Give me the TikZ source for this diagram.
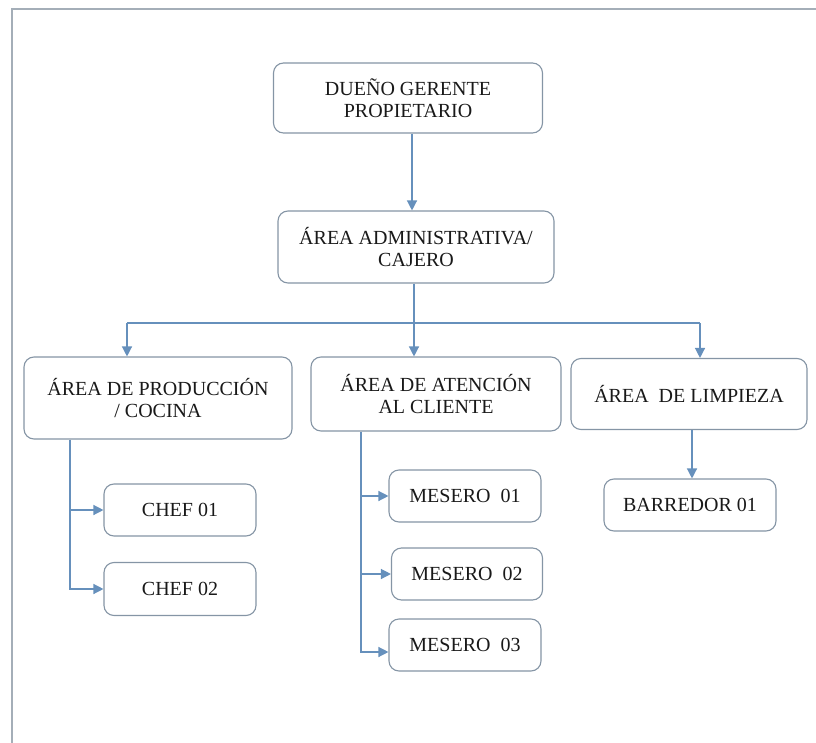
\documentclass[tikz,border=0pt]{standalone}
\usepackage{fontspec}
\setmainfont{Liberation Serif}
\usetikzlibrary{arrows.meta}
\definecolor{framegray}{HTML}{A4AEB8}
\definecolor{boxgray}{HTML}{8595A5}
\definecolor{linkblue}{HTML}{6690BC}
\tikzset{
  x=1pt, y=-1pt,
  orgbox/.style={draw=boxgray, line width=1.1pt, rounded corners=10pt,
    fill=white, align=center, inner sep=2pt, text=black!90,
    font=\fontsize{20}{22}\selectfont},
  link/.style={draw=linkblue, line width=1.3pt},
  linkarrow/.style={link, -{Triangle[width=10pt,length=10pt]}}
}
\begin{document}
\begin{tikzpicture}
  \useasboundingbox (0,0) rectangle (816,743);
  % page frame
  \draw[framegray, line width=1.8pt] (12,743) -- (12,9) -- (816,9);

  % boxes
  \node[orgbox, minimum width=269pt, minimum height=70pt] (dueno) at (408,98)
    {DUEÑO GERENTE\\PROPIETARIO};
  \node[orgbox, minimum width=276pt, minimum height=72pt] (admin) at (416,247)
    {ÁREA ADMINISTRATIVA/\\CAJERO};
  \node[orgbox, minimum width=268pt, minimum height=82pt] (prod) at (158,398)
    {ÁREA DE PRODUCCIÓN\\/ COCINA};
  \node[orgbox, minimum width=250pt, minimum height=74pt] (aten) at (436,394)
    {ÁREA DE ATENCIÓN\\AL CLIENTE};
  \node[orgbox, minimum width=236pt, minimum height=71pt] (limp) at (689,394)
    {ÁREA\ \ DE LIMPIEZA};
  \node[orgbox, minimum width=152pt, minimum height=52pt] (chefa) at (180,510) {CHEF 01};
  \node[orgbox, minimum width=152pt, minimum height=53pt] (chefb) at (180,589) {CHEF 02};
  \node[orgbox, minimum width=152pt, minimum height=52pt] (mesa) at (465,496) {MESERO\ \ 01};
  \node[orgbox, minimum width=151pt, minimum height=52pt] (mesb) at (467,574) {MESERO\ \ 02};
  \node[orgbox, minimum width=152pt, minimum height=52pt] (mesc) at (465,645) {MESERO\ \ 03};
  \node[orgbox, minimum width=172pt, minimum height=52pt] (barr) at (690,505) {BARREDOR 01};

  % top chain
  \coordinate (topx) at (412,0);
  \draw[linkarrow] (dueno.south -| topx) -- (admin.north -| topx);

  % distribution bus
  \coordinate (jL) at (127,323);
  \coordinate (jM) at (414,323);
  \coordinate (jR) at (700,323);
  \draw[link] (admin.south -| jM) -- (jM);
  \draw[link] (jL) -- (jR);
  \draw[linkarrow] (jL) -- (jL |- prod.north);
  \draw[linkarrow] (jM) -- (jM |- aten.north);
  \draw[linkarrow] (jR) -- (jR |- limp.north);

  % kitchen staff
  \coordinate (pv) at (70,0);
  \draw[linkarrow] (prod.south -| pv) |- (chefb.west);
  \draw[linkarrow] (pv |- chefa.west) -- (chefa.west);

  % waiters
  \coordinate (av) at (361,0);
  \coordinate (mcin) at ([yshift=-7pt]mesc.west);
  \draw[linkarrow] (aten.south -| av) |- (mcin);
  \draw[linkarrow] (av |- mesa.west) -- (mesa.west);
  \draw[linkarrow] (av |- mesb.west) -- (mesb.west);

  % cleaning staff
  \coordinate (lv) at (692,0);
  \draw[linkarrow] (limp.south -| lv) -- (barr.north -| lv);
\end{tikzpicture}
\end{document}
